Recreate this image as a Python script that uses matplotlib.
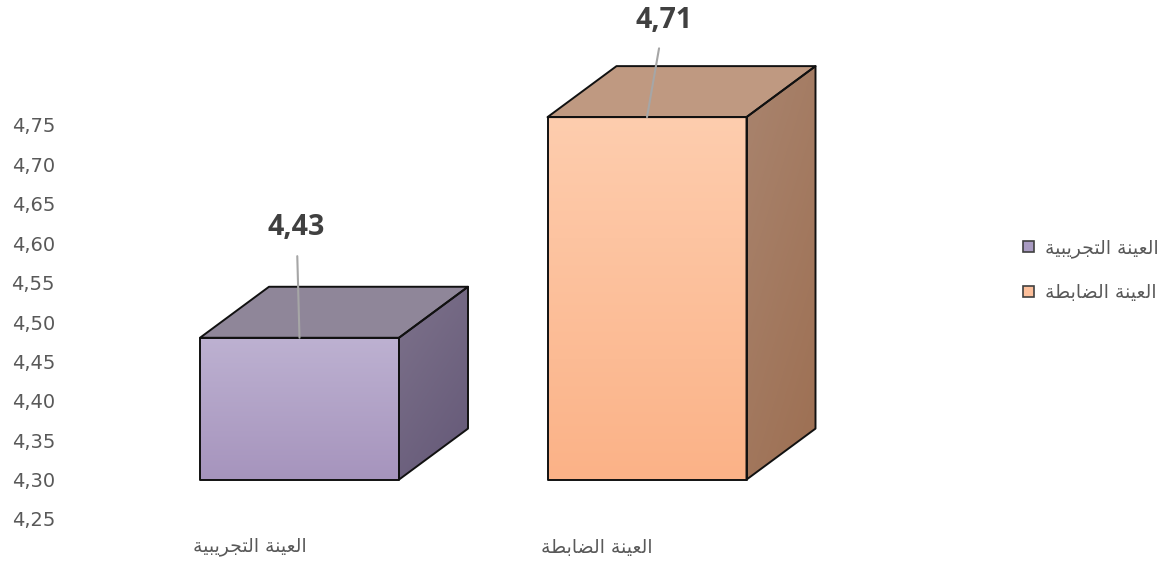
import numpy as np
import matplotlib
matplotlib.use("Agg")
import matplotlib.pyplot as plt
from matplotlib.patches import Polygon, Patch
from matplotlib.colors import LinearSegmentedColormap

# data
categories = ["العينة التجريبية", "العينة الضابطة"]
values = [4.43, 4.71]
yticks = [4.25, 4.30, 4.35, 4.40, 4.45, 4.50, 4.55, 4.60, 4.65, 4.70, 4.75]

# colours per bar: front (top, bottom), top face, side (light, dark)
front_cols = [("#bdb1d1", "#a694bd"), ("#fecdae", "#fbb287")]
top_cols = ["#8f8699", "#bf9981"]
side_cols = [("#7d728b", "#645877"), ("#a9846e", "#9d6f52")]
legend_cols = ["#a99bc2", "#fcbf9b"]

plt.rcParams['font.family'] = ['Open Sans', 'DejaVu Sans']

# matplotlib has no arabic shaping: map letters to presentation forms, then reverse
FORMS = {
    'ا': (0xFE8D, 0xFE8E, None, None),
    'ل': (0xFEDD, 0xFEDE, 0xFEDF, 0xFEE0),
    'ع': (0xFEC9, 0xFECA, 0xFECB, 0xFECC),
    'ي': (0xFEF1, 0xFEF2, 0xFEF3, 0xFEF4),
    'ن': (0xFEE5, 0xFEE6, 0xFEE7, 0xFEE8),
    'ة': (0xFE93, 0xFE94, None, None),
    'ت': (0xFE95, 0xFE96, 0xFE97, 0xFE98),
    'ج': (0xFE9D, 0xFE9E, 0xFE9F, 0xFEA0),
    'ر': (0xFEAD, 0xFEAE, None, None),
    'ب': (0xFE8F, 0xFE90, 0xFE91, 0xFE92),
    'ض': (0xFEBD, 0xFEBE, 0xFEBF, 0xFEC0),
    'ط': (0xFEC1, 0xFEC2, 0xFEC3, 0xFEC4),
}


def shape(text):
    out = []
    for i, ch in enumerate(text):
        if ch not in FORMS:
            out.append(ch)
            continue
        iso, fin, ini, med = FORMS[ch]
        prev = text[i - 1] if i > 0 else ''
        nxt = text[i + 1] if i + 1 < len(text) else ''
        jp = prev in FORMS and FORMS[prev][2] is not None
        jn = nxt in FORMS and ini is not None
        if jp and jn:
            c = med
        elif jp:
            c = fin
        elif jn:
            c = ini
        else:
            c = iso
        out.append(chr(c))
    return ''.join(reversed(out))


def fmt(v):
    return f"{v:.2f}".replace('.', ',')


W, H = 1167, 561
fig = plt.figure(figsize=(W / 100, H / 100), dpi=100)
# axes placed so 4.25 -> px 519, 4.75 -> px 125
ax = fig.add_axes([62 / W, (H - 519) / H, (1000 - 62) / W, 394 / H])
xlim = (-(299.5 - 62) / 347.5, (1000 - 299.5) / 347.5)
ylim = (4.25, 4.75)

bw = 199 / 347.5      # front width
dx = 69 / 347.5       # depth in x
dy = 51 / 788         # depth in y
shift = 0.05          # front face floor sits one step above axis min


def gradient_fill(data, cmap, extent, poly):
    im = ax.imshow(data, cmap=cmap, origin='lower', aspect='auto',
                   extent=extent, zorder=2, interpolation='bilinear')
    p = Polygon(poly, closed=True, facecolor='none', edgecolor='none', clip_on=False)
    ax.add_patch(p)
    im.set_clip_path(p)
    im.set_clip_box(fig.bbox)


for i, v in enumerate(values):
    x0, x1 = i - bw / 2, i + bw / 2
    base, top = ylim[0] + shift, v + shift
    front = [(x0, base), (x0, top), (x1, top), (x1, base)]
    topf = [(x0, top), (x0 + dx, top + dy), (x1 + dx, top + dy), (x1, top)]
    side = [(x1, base), (x1, top), (x1 + dx, top + dy), (x1 + dx, base + dy)]

    cm = LinearSegmentedColormap.from_list('f', [front_cols[i][1], front_cols[i][0]])
    gradient_fill(np.linspace(0, 1, 256).reshape(-1, 1), cm, (x0, x1, base, top), front)

    cm = LinearSegmentedColormap.from_list('s', [side_cols[i][0], side_cols[i][1]])
    yy, xx = np.mgrid[0:1:128j, 0:1:64j]
    gradient_fill(0.35 * xx + 0.65 * (1 - yy), cm, (x1, x1 + dx, base, top + dy), side)

    ax.add_patch(Polygon(topf, closed=True, facecolor=top_cols[i], edgecolor='none',
                         clip_on=False, zorder=2))
    for poly in (front, topf, side):
        ax.add_patch(Polygon(poly, closed=True, facecolor='none', edgecolor='#111111',
                             lw=1.4, joinstyle='round', clip_on=False, zorder=3))

    # data label with leader line
    off = [(-3, 110), (17, 97)][i]
    ax.annotate(fmt(v), xy=(i, top), xytext=(off[0] * 0.72, off[1] * 0.72),
                textcoords='offset points', ha='center', va='center',
                fontsize=20.5, fontweight='bold', color='#404040',
                arrowprops=dict(arrowstyle='-', color='#a6a6a6', lw=1.5,
                                shrinkA=8, shrinkB=0),
                annotation_clip=False, zorder=4)

    # category label
    ax.text(i - 50 / 347.5, ylim[0] - 28 / 788, shape(categories[i]),
            ha='center', va='center', fontsize=13.5, color='#595959',
            family=['DejaVu Sans'], clip_on=False)

ax.set_xlim(*xlim)
ax.set_ylim(*ylim)
ax.set_yticks(yticks)
ax.set_yticklabels([fmt(t) for t in yticks], fontsize=14, color='#595959',
                   family=['DejaVu Sans'])
ax.tick_params(axis='y', length=0, pad=5)
ax.set_xticks([])
for s in ax.spines.values():
    s.set_visible(False)
ax.patch.set_alpha(0)

handles = [Patch(facecolor=legend_cols[k], edgecolor='#404040', lw=1.2) for k in range(2)]
fig.legend(handles, [shape(c) for c in categories], loc='upper left',
           bbox_to_anchor=(1014 / W, 1 - 229 / H), frameon=False,
           prop={'family': 'DejaVu Sans', 'size': 13.5}, labelcolor='#595959',
           handlelength=0.55, handleheight=0.55, handletextpad=0.6,
           labelspacing=1.35, borderpad=0)

fig.savefig("out.png", dpi=100)
